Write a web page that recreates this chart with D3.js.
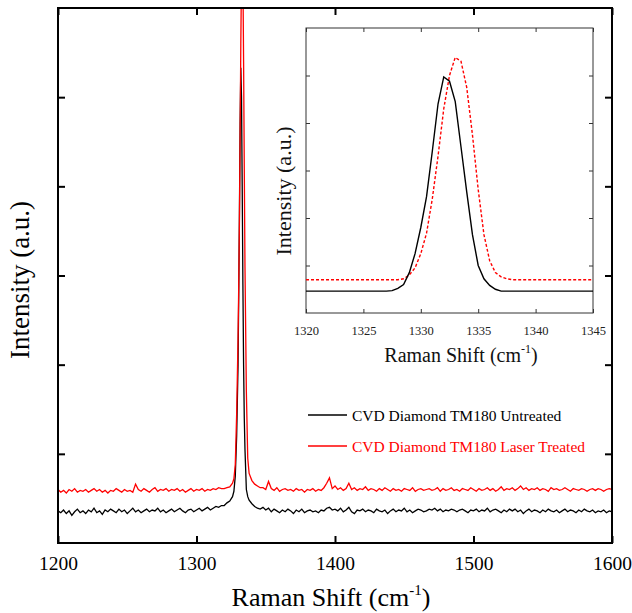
<!DOCTYPE html>
<html>
<head>
<meta charset="utf-8">
<script src="https://cdn.jsdelivr.net/npm/d3@7"></script>
<style>
  body { margin: 0; background: #fff; }
</style>
</head>
<body>
<svg id="chart" width="632" height="613"></svg>
<script>
// main spectrum, baseline sampled every 2 cm-1 outside the peak region
var lowStart = 1200, highStart = 1348;

var untreatedLow = [
  0.36,0.34,0.37,0.33,0.36,0.31,0.35,0.38,0.34,0.36,
  0.33,0.37,0.35,0.39,0.34,0.36,0.32,0.37,0.35,0.38,
  0.36,0.34,0.38,0.35,0.37,0.33,0.36,0.39,0.35,0.37,
  0.34,0.36,0.38,0.35,0.37,0.36,0.39,0.35,0.37,0.34,
  0.36,0.38,0.35,0.37,0.39,0.36,0.34,0.37,0.38,0.35,
  0.37,0.39,0.36,0.38,0.40,0.37,0.39,0.41,0.40,0.42
];
var untreatedHigh = [
  0.40,0.37,0.39,0.35,0.38,0.36,0.34,0.37,0.35,0.38,
  0.36,0.33,0.37,0.35,0.38,0.34,0.36,0.37,0.35,0.36,
  0.34,0.37,0.36,0.39,0.40,0.37,0.38,0.36,0.39,0.35,
  0.37,0.40,0.35,0.33,0.37,0.36,0.38,0.35,0.37,0.36,
  0.34,0.38,0.36,0.35,0.37,0.33,0.36,0.38,0.35,0.37,
  0.36,0.39,0.35,0.37,0.34,0.36,0.38,0.37,0.35,0.36,
  0.38,0.37,0.39,0.36,0.38,0.35,0.37,0.36,0.38,0.37,
  0.35,0.37,0.38,0.36,0.34,0.37,0.36,0.38,0.35,0.37,
  0.36,0.39,0.35,0.37,0.38,0.36,0.34,0.37,0.35,0.38,
  0.36,0.38,0.35,0.37,0.33,0.36,0.38,0.35,0.37,0.36,
  0.34,0.37,0.35,0.38,0.36,0.35,0.37,0.34,0.36,0.38,
  0.35,0.37,0.36,0.34,0.37,0.35,0.38,0.36,0.35,0.37,
  0.34,0.36,0.35,0.37,0.34,0.36,0.35
];
var treatedLow = [
  0.60,0.57,0.59,0.56,0.60,0.58,0.61,0.57,0.59,0.58,
  0.60,0.57,0.59,0.61,0.58,0.60,0.57,0.59,0.56,0.59,
  0.58,0.61,0.59,0.57,0.60,0.58,0.59,0.57,0.66,0.60,
  0.58,0.61,0.59,0.57,0.60,0.62,0.58,0.60,0.59,0.61,
  0.58,0.60,0.59,0.61,0.58,0.60,0.57,0.59,0.61,0.58,
  0.60,0.59,0.61,0.58,0.60,0.59,0.61,0.60,0.62,0.61
];
var treatedHigh = [
  0.62,0.60,0.69,0.61,0.59,0.62,0.58,0.60,0.61,0.59,
  0.60,0.58,0.61,0.59,0.60,0.57,0.60,0.59,0.61,0.58,
  0.60,0.59,0.62,0.67,0.73,0.61,0.64,0.60,0.62,0.59,
  0.61,0.67,0.60,0.62,0.59,0.61,0.60,0.63,0.59,0.61,
  0.60,0.58,0.61,0.59,0.62,0.60,0.58,0.61,0.59,0.60,
  0.58,0.61,0.60,0.59,0.62,0.58,0.60,0.61,0.59,0.60,
  0.61,0.59,0.60,0.62,0.58,0.61,0.59,0.60,0.62,0.59,
  0.60,0.58,0.61,0.60,0.59,0.62,0.60,0.58,0.61,0.59,
  0.60,0.62,0.59,0.61,0.58,0.60,0.63,0.59,0.61,0.60,
  0.62,0.59,0.61,0.64,0.60,0.62,0.59,0.61,0.60,0.62,
  0.59,0.61,0.60,0.58,0.62,0.60,0.61,0.59,0.60,0.62,
  0.60,0.58,0.61,0.60,0.59,0.61,0.60,0.58,0.60,0.61,
  0.59,0.61,0.60,0.58,0.60,0.61,0.60
];

// peak region, finer sampling
var peakX = [1320,1322,1324,1326,1327,1328,1329,1330,1330.5,1331,1331.5,1332,1332.5,
             1333,1333.5,1334,1334.5,1335,1336,1337,1338,1340,1342,1344,1346];
var untreatedPeak = [0.42,0.45,0.47,0.52,0.58,0.75,1.2,2.0,2.8,3.7,4.7,5.33,5.0,
                     4.0,2.9,2.0,1.4,1.05,0.6,0.52,0.48,0.44,0.41,0.39,0.38];
var treatedPeak = [0.61,0.62,0.63,0.67,0.72,0.88,1.45,2.3,2.9,3.6,4.6,5.6,6.4,
                   6.8,6.4,5.4,4.2,3.1,1.7,0.95,0.78,0.70,0.66,0.64,0.62];

// inset (zoom on 1320-1345), 0.5 cm-1 steps
var insetX = d3.range(1320, 1345.01, 0.5);
var insetUntreated = [
  0.46,0.46,0.46,0.46,0.46,0.46,0.46,0.46,0.46,0.46,0.46,0.46,0.46,0.46,0.46,
  0.47,0.52,0.6,0.85,1.25,1.8,2.45,3.4,4.4,4.97,4.88,4.45,3.5,2.55,1.65,1.0,0.72,0.58,0.5,0.46,
  0.46,0.46,0.46,0.46,0.46,0.46,0.46,0.46,0.46,0.46,0.46,0.46,0.46,0.46,0.46,0.46
];
var insetTreated = [
  0.70,0.70,0.70,0.70,0.70,0.70,0.70,0.70,0.70,0.70,0.70,0.70,0.70,0.70,0.70,0.70,0.70,
  0.72,0.8,0.95,1.25,1.68,2.4,3.3,4.3,5.0,5.38,5.3,4.75,3.75,2.6,1.65,1.1,0.85,0.76,0.72,0.70,
  0.70,0.70,0.70,0.70,0.70,0.70,0.70,0.70,0.70,0.70,0.70,0.70,0.70,0.70
];

var xTicks = [1200, 1300, 1400, 1500, 1600];
var insetTicks = [1320, 1325, 1330, 1335, 1340, 1345];
var yTicks = [1, 2, 3, 4, 5];
var seriesNames = ['CVD Diamond TM180 Untreated', 'CVD Diamond TM180 Laser Treated'];
var seriesColors = ['#000', '#ff0000'];
var serif = "'Liberation Serif', 'Times New Roman', serif";

function buildSeries(low, peak, high) {
  var pts = [];
  low.forEach((v, i) => pts.push([lowStart + 2 * i, v]));
  peak.forEach((v, i) => pts.push([peakX[i], v]));
  high.forEach((v, i) => pts.push([highStart + 2 * i, v]));
  return pts;
}

var svg = d3.select('#chart');

// main plot
var m = { left: 58, right: 612, top: 8, bottom: 543 };
var x = d3.scaleLinear().domain([1200, 1600]).range([m.left, m.right]);
var y = d3.scaleLinear().domain([0, 6]).range([m.bottom, m.top]);

svg.append('clipPath').attr('id', 'clipMain')
  .append('rect')
  .attr('x', m.left).attr('y', m.top)
  .attr('width', m.right - m.left).attr('height', m.bottom - m.top);

var line = d3.line().x(d => x(d[0])).y(d => y(d[1]));

var mainData = [
  buildSeries(untreatedLow, untreatedPeak, untreatedHigh),
  buildSeries(treatedLow, treatedPeak, treatedHigh)
];

svg.append('g').attr('clip-path', 'url(#clipMain)')
  .selectAll('path')
  .data(mainData)
  .enter()
  .append('path')
  .attr('d', line)
  .attr('fill', 'none')
  .attr('stroke', (d, i) => seriesColors[i])
  .attr('stroke-width', 1.3);

function styleAxis(g, w, col) {
  g.select('.domain').remove();
  g.selectAll('.tick line').attr('stroke', col).attr('stroke-width', w);
}

svg.append('g')
  .attr('transform', `translate(0, ${m.bottom})`)
  .call(d3.axisBottom(x).tickValues(xTicks).tickSize(-7).tickPadding(13).tickFormat(d3.format('d')))
  .call(g => styleAxis(g, 2, '#000'))
  .call(g => g.selectAll('text').attr('fill', '#000').style('font-size', '19.5px').style('font-family', serif));
svg.append('g')
  .attr('transform', `translate(0, ${m.top})`)
  .call(d3.axisTop(x).tickValues(xTicks).tickSize(-7).tickFormat(''))
  .call(g => styleAxis(g, 2, '#000'));
svg.append('g')
  .attr('transform', `translate(${m.left}, 0)`)
  .call(d3.axisLeft(y).tickValues(yTicks).tickSize(-7).tickFormat(''))
  .call(g => styleAxis(g, 2, '#000'));
svg.append('g')
  .attr('transform', `translate(${m.right}, 0)`)
  .call(d3.axisRight(y).tickValues(yTicks).tickSize(-7).tickFormat(''))
  .call(g => styleAxis(g, 2, '#000'));

svg.append('rect')
  .attr('x', m.left).attr('y', m.top)
  .attr('width', m.right - m.left).attr('height', m.bottom - m.top)
  .attr('fill', 'none').attr('stroke', '#000').attr('stroke-width', 2);

var xl = svg.append('text')
  .attr('x', 331).attr('y', 606)
  .attr('text-anchor', 'middle')
  .style('font-family', serif).style('font-size', '26px')
  .text('Raman Shift (cm');
xl.append('tspan').style('font-size', '15px').attr('dy', -11).text('-1');
xl.append('tspan').attr('dy', 11).text(')');

svg.append('text')
  .attr('transform', 'translate(28.5, 280) rotate(-90)')
  .attr('text-anchor', 'middle')
  .style('font-family', serif).style('font-size', '27px')
  .text('Intensity (a.u.)');

// legend
var legend = svg.append('g');
seriesNames.forEach((name, i) => {
  var ly = 415 + i * 31;
  legend.append('line')
    .attr('x1', 308).attr('x2', 347)
    .attr('y1', ly).attr('y2', ly)
    .attr('stroke', seriesColors[i]).attr('stroke-width', 1.3);
  legend.append('text')
    .attr('x', 352).attr('y', ly + 6)
    .style('font-family', serif).style('font-size', '15.5px')
    .attr('fill', seriesColors[i])
    .text(name);
});

// inset
var n = { left: 306, right: 593, top: 28, bottom: 313 };
var xi = d3.scaleLinear().domain([1320, 1345]).range([n.left, n.right]);
var yi = d3.scaleLinear().domain([0, 6]).range([n.bottom, n.top]);
var lineInset = d3.line().x(d => xi(d[0])).y(d => yi(d[1]));

svg.append('rect')
  .attr('x', n.left).attr('y', n.top)
  .attr('width', n.right - n.left).attr('height', n.bottom - n.top)
  .attr('fill', '#fff').attr('stroke', '#333').attr('stroke-width', 1);

svg.append('path')
  .datum(insetX.map((v, i) => [v, insetTreated[i]]))
  .attr('d', lineInset)
  .attr('fill', 'none')
  .attr('stroke', '#ff0000')
  .attr('stroke-width', 1.4)
  .attr('stroke-dasharray', '3,2');
svg.append('path')
  .datum(insetX.map((v, i) => [v, insetUntreated[i]]))
  .attr('d', lineInset)
  .attr('fill', 'none')
  .attr('stroke', '#000')
  .attr('stroke-width', 1.4);

svg.append('g')
  .attr('transform', `translate(0, ${n.bottom})`)
  .call(d3.axisBottom(xi).tickValues(insetTicks).tickSize(-4).tickPadding(13).tickFormat(d3.format('d')))
  .call(g => styleAxis(g, 1, '#333'))
  .call(g => g.selectAll('text').attr('fill', '#222').style('font-size', '12.5px').style('font-family', serif));
svg.append('g')
  .attr('transform', `translate(0, ${n.top})`)
  .call(d3.axisTop(xi).tickValues(insetTicks).tickSize(-4).tickFormat(''))
  .call(g => styleAxis(g, 1, '#333'));
svg.append('g')
  .attr('transform', `translate(${n.left}, 0)`)
  .call(d3.axisLeft(yi).tickValues(yTicks).tickSize(-4).tickFormat(''))
  .call(g => styleAxis(g, 1, '#333'));
svg.append('g')
  .attr('transform', `translate(${n.right}, 0)`)
  .call(d3.axisRight(yi).tickValues(yTicks).tickSize(-4).tickFormat(''))
  .call(g => styleAxis(g, 1, '#333'));

var il = svg.append('text')
  .attr('x', 461).attr('y', 361.5)
  .attr('text-anchor', 'middle')
  .style('font-family', serif).style('font-size', '20px')
  .attr('fill', '#111')
  .text('Raman Shift (cm');
il.append('tspan').style('font-size', '12px').attr('dy', -9).text('-1');
il.append('tspan').attr('dy', 9).text(')');

svg.append('text')
  .attr('transform', 'translate(291, 191) rotate(-90)')
  .attr('text-anchor', 'middle')
  .style('font-family', serif).style('font-size', '22px')
  .attr('fill', '#111')
  .text('Intensity (a.u.)');
</script>
</body>
</html>
